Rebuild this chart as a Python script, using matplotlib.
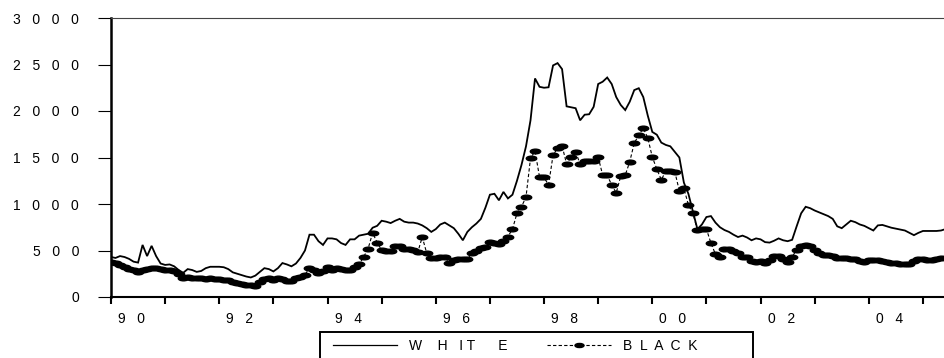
import numpy as np
import matplotlib
matplotlib.use("Agg")
import matplotlib.pyplot as plt
from matplotlib.lines import Line2D
from matplotlib.patches import Rectangle
from matplotlib.path import Path

plt.rcParams['font.family'] = ['Liberation Sans', 'DejaVu Sans']

# monthly data, 1990M01 .. 2005M06
start_year = 1990
white = [
    430, 420, 440, 430, 410, 380, 370, 560, 440, 550, 440, 360,       # 1990
    345, 350, 330, 290, 260, 300, 290, 270, 280, 310, 325, 325,       # 1991
    325, 320, 300, 265, 250, 235, 220, 210, 230, 270, 310, 300,       # 1992
    275, 310, 365, 350, 330, 360, 420, 500, 670, 670, 600, 560,       # 1993
    630, 630, 620, 580, 560, 620, 620, 660, 670, 680, 745, 765,       # 1994
    820, 810, 795, 820, 840, 810, 800, 800, 790, 770, 740, 700,       # 1995
    730, 780, 800, 770, 740, 680, 610, 700, 750, 790, 840, 960,       # 1996
    1100, 1110, 1040, 1130, 1060, 1100, 1250, 1420, 1620, 1900, 2350, 2260,  # 1997
    2250, 2255, 2490, 2515, 2450, 2050, 2040, 2030, 1900, 1960, 1965, 2045,  # 1998
    2290, 2315, 2360, 2290, 2150, 2065, 2010, 2100, 2225, 2245, 2150, 1950,  # 1999
    1775, 1745, 1660, 1635, 1620, 1560, 1500, 1230, 1110, 920, 730, 780,     # 2000
    860, 870, 800, 750, 720, 700, 670, 645, 660, 640, 610, 630,       # 2001
    620, 590, 585, 605, 630, 610, 600, 615, 760, 900, 970, 955,       # 2002
    930, 910, 890, 870, 840, 760, 740, 780, 820, 805, 780, 765,       # 2003
    740, 715, 770, 775, 760, 745, 735, 725, 715, 690, 665, 690,       # 2004
    710, 710, 710, 710, 715, 730,                                     # 2005
]
black = [
    375, 365, 345, 325, 305, 285, 270, 290, 305, 315, 310, 305,       # 1990
    295, 285, 280, 250, 205, 210, 200, 205, 200, 195, 200, 195,       # 1991
    195, 185, 180, 165, 150, 140, 130, 125, 120, 160, 190, 200,       # 1992
    185, 200, 195, 175, 170, 200, 215, 240, 310, 290, 260, 280,       # 1993
    325, 290, 310, 300, 290, 295, 325, 350, 430, 520, 690, 585,       # 1994
    505, 500, 495, 550, 545, 520, 520, 505, 480, 645, 470, 420,       # 1995
    420, 430, 430, 365, 395, 405, 410, 410, 470, 490, 525, 540,       # 1996
    590, 580, 570, 600, 650, 730, 900, 970, 1075, 1490, 1570, 1290,   # 1997
    1285, 1205, 1525, 1600, 1625, 1430, 1505, 1560, 1430, 1465, 1465, 1465,  # 1998
    1505, 1310, 1310, 1205, 1120, 1300, 1310, 1455, 1655, 1740, 1815, 1710,  # 1999
    1505, 1375, 1260, 1355, 1350, 1345, 1140, 1170, 990, 900, 720, 730,      # 2000
    730, 580, 460, 430, 515, 515, 490, 470, 430, 430, 390, 375,       # 2001
    390, 365, 400, 440, 440, 405, 380, 430, 510, 545, 560, 545,       # 2002
    510, 470, 450, 450, 440, 420, 420, 420, 410, 405, 390, 380,       # 2003
    395, 400, 395, 385, 380, 370, 365, 360, 360, 360, 385, 405,       # 2004
    405, 400, 400, 410, 415, 420,                                     # 2005
]
y_ticks = [0, 500, 1000, 1500, 2000, 2500, 3000]
x_label_years = [1990, 1992, 1994, 1996, 1998, 2000, 2002, 2004]
legend_labels = ["W    H   I T      E", "B  L  A  C  K"]


def spaced(s):
    return "   ".join(s)


t = start_year + np.arange(len(white)) / 12.0

fig = plt.figure(figsize=(9.45, 3.58), dpi=100)
ax = fig.add_axes([111 / 945, 1 - 297 / 358, 1 - 111 / 945, 279 / 358])

# flat ellipse marker like the eviews one
circ = Path.unit_circle()
ell = Path(circ.vertices * [1.0, 0.45], circ.codes)

ax.plot(t, white, color='black', lw=1.3, solid_joinstyle='miter')
ax.plot(t, black, color='black', lw=0.8, linestyle=(0, (3, 2)),
        marker=ell, markersize=7.5, markerfacecolor='black', markeredgecolor='black')

ax.set_xlim(1990, 1990 + (945 - 111) / 54.13)
ax.set_ylim(0, 3000)

ax.set_yticks(y_ticks)
ax.set_yticklabels([spaced(str(v)) for v in y_ticks])
ax.tick_params(axis='y', direction='out', length=9.5, width=0.8, pad=13.5, labelsize=10)

ax.set_xticks(np.arange(1990, 2006))
ax.set_xticklabels([])
ax.tick_params(axis='x', which='major', direction='out', length=5, width=1.5)
ax.set_xticks([y + 0.38 for y in x_label_years], minor=True)
ax.set_xticklabels([spaced(str(y)[2:]) for y in x_label_years], minor=True)
ax.tick_params(axis='x', which='minor', length=0, pad=11, labelsize=10)

ax.spines['right'].set_visible(False)
ax.spines['top'].set_linewidth(0.8)
ax.spines['top'].set_color('#444444')
ax.spines['left'].set_linewidth(1.8)
ax.spines['bottom'].set_linewidth(1.5)

handles = [
    Line2D([], [], color='black', lw=0.9),
    Line2D([], [], color='black', lw=0.8, linestyle=(0, (3, 2)),
           marker=ell, markersize=6.5, markerfacecolor='black'),
]
fig.legend(handles, legend_labels, loc='center left',
           bbox_to_anchor=(333 / 945, 1 - 346 / 358), ncol=2, frameon=False,
           handlelength=4.6, handletextpad=0.85, columnspacing=2.9,
           borderpad=0, borderaxespad=0, numpoints=1, fontsize=10)
fig.patches.append(Rectangle((320 / 945, -0.05), (753 - 320) / 945, (358 - 332) / 358 + 0.05,
                             transform=fig.transFigure, fill=False, lw=1.4, edgecolor='black'))

fig.savefig("out.png", dpi=100)
